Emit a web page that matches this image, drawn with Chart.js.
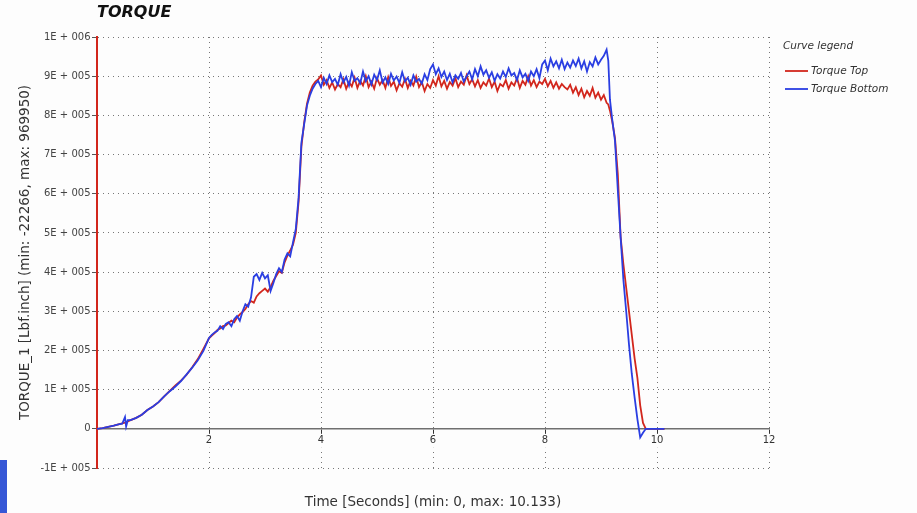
<!DOCTYPE html>
<html>
<head>
<meta charset="utf-8">
<title>TORQUE</title>
<script src="https://cdn.jsdelivr.net/npm/chart.js@4.4.1/dist/chart.umd.min.js"></script>
<style>
html, body { margin: 0; padding: 0; background: #fdfdfd; }
#wrap { position: relative; width: 917px; height: 513px; overflow: hidden; }
#tab { position: absolute; left: 0; top: 460px; width: 7px; height: 53px; background: #3657d6; }
</style>
</head>
<body>
<div id="wrap">
  <canvas id="torqueChart" width="917" height="513"></canvas>
  <div id="tab"></div>
</div>
<script>
const chartTitle = 'TORQUE';
const xTitle = 'Time [Seconds] (min: 0, max: 10.133)';
const yTitle = 'TORQUE_1 [Lbf.inch] (min: -22266, max: 969950)';
const legendTitle = 'Curve legend';
const seriesLabels = ['Torque Top', 'Torque Bottom'];

const xTickLabels = ['', '2', '4', '6', '8', '10', '12'];
const yTickLabels = ['-1E + 005', '0', '1E + 005', '2E + 005', '3E + 005', '4E + 005',
  '5E + 005', '6E + 005', '7E + 005', '8E + 005', '9E + 005', '1E + 006'];

// time in seconds
const timeSec = [
  0, 0.1, 0.2, 0.3, 0.4, 0.45, 0.5, 0.52, 0.55, 0.6, 0.7, 0.8, 0.9, 1.0, 1.1, 1.2, 1.3, 1.4, 1.5, 1.6, 1.7, 1.8, 1.9, 2.0,
  2.05, 2.1, 2.15, 2.2, 2.25, 2.3, 2.35, 2.4, 2.45, 2.5, 2.55, 2.6, 2.65, 2.7, 2.75, 2.8, 2.85, 2.9, 2.95, 3.0,
  3.05, 3.1, 3.15, 3.2, 3.25, 3.3, 3.35, 3.4, 3.45, 3.5, 3.55, 3.6, 3.65, 3.7, 3.75, 3.8, 3.85, 3.9,
  3.95, 4.0, 4.05, 4.1, 4.15, 4.2, 4.25, 4.3, 4.35, 4.4,
  4.45, 4.5, 4.55, 4.6, 4.65, 4.7, 4.75, 4.8, 4.85, 4.9,
  4.95, 5.0, 5.05, 5.1, 5.15, 5.2, 5.25, 5.3, 5.35, 5.4,
  5.45, 5.5, 5.55, 5.6, 5.65, 5.7, 5.75, 5.8, 5.85, 5.9,
  5.95, 6.0, 6.05, 6.1, 6.15, 6.2, 6.25, 6.3, 6.35, 6.4,
  6.45, 6.5, 6.55, 6.6, 6.65, 6.7, 6.75, 6.8, 6.85, 6.9,
  6.95, 7.0, 7.05, 7.1, 7.15, 7.2, 7.25, 7.3, 7.35, 7.4,
  7.45, 7.5, 7.55, 7.6, 7.65, 7.7, 7.75, 7.8, 7.85, 7.9,
  7.95, 8.0, 8.05, 8.1, 8.15, 8.2, 8.25, 8.3, 8.35, 8.4,
  8.45, 8.5, 8.55, 8.6, 8.65, 8.7, 8.75, 8.8, 8.85, 8.9,
  8.95, 9.0, 9.05, 9.1,
  9.13, 9.16, 9.2, 9.25, 9.3, 9.35, 9.4, 9.45, 9.5, 9.55, 9.6, 9.65, 9.7, 9.75, 9.8, 9.9, 10.0, 10.133
];

// Lbf.inch
const torqueTop = [
  0, 2e3, 5e3, 8e3, 12e3, 14e3, 16e3, 17e3, 19e3, 22e3, 28e3, 36e3, 48e3, 57e3, 68e3, 83e3, 97e3, 111e3, 123e3, 138e3, 157e3, 178e3, 204e3, 231e3,
  238e3, 244e3, 252e3, 256e3, 262e3, 264e3, 270e3, 276e3, 272e3, 284e3, 292e3, 298e3, 306e3, 318e3, 326e3, 322e3, 338e3, 346e3, 352e3, 358e3,
  350e3, 362e3, 378e3, 390e3, 402e3, 398e3, 425e3, 442e3, 455e3, 470e3, 500e3, 580e3, 720e3, 782e3, 830e3, 858e3, 876e3, 886e3,
  892e3, 902e3, 878e3, 890e3, 870e3, 884e3, 866e3, 880e3, 872e3, 892e3,
  868e3, 885e3, 874e3, 896e3, 870e3, 888e3, 876e3, 900e3, 872e3, 886e3,
  868e3, 895e3, 878e3, 890e3, 870e3, 898e3, 875e3, 886e3, 864e3, 882e3,
  873e3, 893e3, 870e3, 888e3, 876e3, 899e3, 872e3, 885e3, 862e3, 880e3,
  870e3, 890e3, 876e3, 900e3, 874e3, 888e3, 868e3, 885e3, 876e3, 895e3,
  872e3, 886e3, 878e3, 902e3, 880e3, 892e3, 874e3, 890e3, 870e3, 884e3,
  876e3, 894e3, 872e3, 886e3, 862e3, 880e3, 874e3, 890e3, 868e3, 884e3,
  876e3, 895e3, 870e3, 888e3, 878e3, 900e3, 876e3, 890e3, 872e3, 886e3,
  880e3, 893e3, 874e3, 888e3, 870e3, 884e3, 868e3, 880e3, 872e3, 866e3,
  878e3, 858e3, 872e3, 852e3, 868e3, 846e3, 862e3, 850e3, 870e3, 845e3,
  858e3, 840e3, 852e3, 832e3,
  828e3, 812e3, 785e3, 742e3, 650e3, 490e3, 420e3, 360e3, 300e3, 240e3, 180e3, 130e3, 60e3, 15e3, 0, 0, 0, 0
];

const torqueBottom = [
  0, 2e3, 5e3, 8e3, 12e3, 13e3, 30e3, 6e3, 22e3, 22e3, 28e3, 36e3, 48e3, 57e3, 68e3, 83e3, 96e3, 108e3, 122e3, 139e3, 156e3, 175e3, 199e3, 232e3,
  240e3, 246e3, 250e3, 262e3, 255e3, 268e3, 272e3, 262e3, 280e3, 288e3, 276e3, 300e3, 318e3, 312e3, 335e3, 388e3, 395e3, 380e3, 398e3, 384e3,
  392e3, 352e3, 372e3, 395e3, 410e3, 400e3, 432e3, 448e3, 440e3, 476e3, 510e3, 590e3, 730e3, 778e3, 825e3, 850e3, 868e3, 880e3,
  888e3, 872e3, 896e3, 880e3, 902e3, 885e3, 893e3, 878e3, 905e3, 884e3,
  898e3, 876e3, 910e3, 888e3, 895e3, 882e3, 912e3, 887e3, 900e3, 879e3,
  904e3, 890e3, 915e3, 884e3, 897e3, 880e3, 906e3, 889e3, 899e3, 883e3,
  910e3, 887e3, 896e3, 878e3, 902e3, 886e3, 893e3, 881e3, 905e3, 890e3,
  918e3, 930e3, 905e3, 920e3, 898e3, 912e3, 890e3, 906e3, 884e3, 902e3,
  893e3, 908e3, 886e3, 900e3, 912e3, 892e3, 918e3, 900e3, 925e3, 904e3,
  915e3, 896e3, 910e3, 888e3, 905e3, 894e3, 912e3, 898e3, 920e3, 902e3,
  908e3, 890e3, 915e3, 897e3, 906e3, 888e3, 912e3, 900e3, 918e3, 895e3,
  930e3, 940e3, 915e3, 945e3, 925e3, 938e3, 920e3, 942e3, 918e3, 935e3,
  922e3, 940e3, 926e3, 945e3, 920e3, 938e3, 912e3, 936e3, 925e3, 948e3,
  930e3, 942e3, 952e3, 968e3,
  940e3, 840e3, 790e3, 735e3, 610e3, 490e3, 380e3, 300e3, 215e3, 140e3, 80e3, 25e3, -22e3, -10e3, 0, 0, 0, 0
];

const redColor = '#d2261c';
const blueColor = '#2a3ee2';
const font = 'DejaVu Sans';

function toPoints(values) {
  return values.map((v, i) => ({ x: timeSec[i], y: v }));
}

// legend drawn to the right of the plot
const legendBox = {
  id: 'legendBox',
  afterDraw(chart) {
    const c = chart.ctx;
    const x0 = chart.chartArea.right + 14;
    c.save();
    c.font = 'italic 10.5px "' + font + '"';
    c.fillStyle = '#333';
    c.textBaseline = 'middle';
    c.fillText(legendTitle, x0, 46);
    chart.data.datasets.forEach((ds, i) => {
      const y = 71 + i * 18;
      c.strokeStyle = ds.borderColor;
      c.lineWidth = 1.8;
      c.beginPath();
      c.moveTo(x0 + 2, y);
      c.lineTo(x0 + 25, y);
      c.stroke();
      c.fillText(ds.label, x0 + 28, y);
    });
    c.restore();
  }
};

const ctx = document.getElementById('torqueChart').getContext('2d');
const chart = new Chart(ctx, {
  type: 'line',
  data: {
    datasets: [
      {
        label: seriesLabels[0],
        data: toPoints(torqueTop),
        borderColor: redColor,
        backgroundColor: redColor,
        borderWidth: 1.8,
        pointRadius: 0,
        tension: 0,
        order: 1
      },
      {
        label: seriesLabels[1],
        data: toPoints(torqueBottom),
        borderColor: blueColor,
        backgroundColor: blueColor,
        borderWidth: 1.8,
        pointRadius: 0,
        tension: 0,
        order: 0
      }
    ]
  },
  options: {
    responsive: false,
    animation: false,
    layout: { padding: { left: 0, right: 148, top: 0, bottom: 0 } },
    plugins: {
      legend: { display: false },
      tooltip: { enabled: false },
      title: {
        display: true,
        text: chartTitle,
        align: 'start',
        fullSize: false,
        color: '#111',
        font: { family: font, size: 16, weight: 'bold', style: 'italic' },
        padding: { top: 3.4, bottom: 14.4 }
      },
      subtitle: {
        display: true,
        text: xTitle,
        position: 'bottom',
        fullSize: false,
        color: '#333',
        font: { family: font, size: 13.5 },
        padding: { top: 25.9, bottom: 2.9 }
      }
    },
    scales: {
      x: {
        type: 'linear',
        min: 0,
        max: 12,
        position: { y: 0 },
        afterFit: (s) => { s.height = 0; },
        ticks: {
          stepSize: 2,
          autoSkip: false,
          maxRotation: 0,
          color: '#333',
          padding: 1,
          font: { family: font, size: 10 },
          showLabelBackdrop: true,
          backdropColor: '#fdfdfd',
          backdropPadding: 1,
          callback: (v) => xTickLabels[Math.round(v / 2)]
        },
        grid: { color: '#777', lineWidth: 1, tickLength: 5, tickColor: '#333', tickWidth: 1 },
        border: { display: true, color: '#707070', width: 1.5, dash: [1, 4] }
      },
      y: {
        type: 'linear',
        min: -100000,
        max: 1000000,
        afterFit: (s) => { s.width = 97; },
        ticks: {
          stepSize: 100000,
          color: '#444',
          padding: 1.5,
          font: { family: font, size: 10 },
          callback: (v) => yTickLabels[Math.round(v / 100000) + 1]
        },
        grid: { color: '#777', lineWidth: 1, tickLength: 5, tickColor: '#555', tickWidth: 1 },
        border: { display: true, color: redColor, width: 2, dash: [1, 4] },
        title: {
          display: true,
          text: yTitle,
          color: '#333',
          font: { family: font, size: 13.5 },
          padding: { top: 16.9, bottom: 0 }
        }
      }
    }
  },
  plugins: [legendBox]
});
</script>
</body>
</html>
